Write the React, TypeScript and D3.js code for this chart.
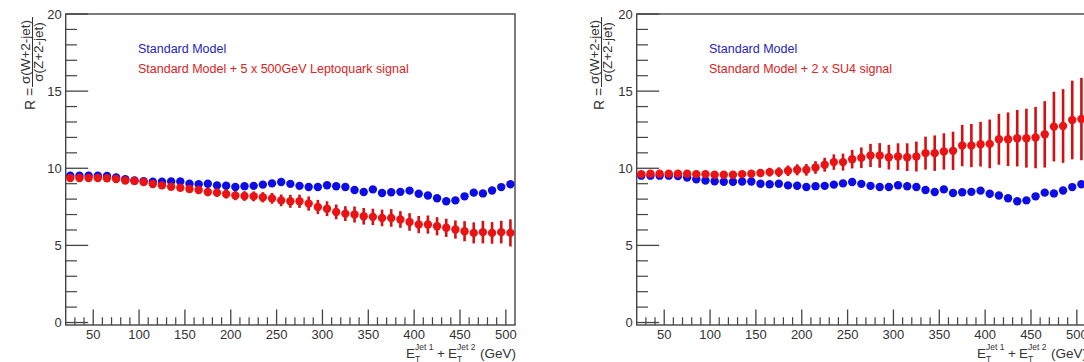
import React from "react";
import * as d3 from "d3";

// ---- data ----
const binCenters = [25, 35, 45, 55, 65, 75, 85, 95, 105, 115, 125, 135, 145, 155, 165, 175, 185, 195, 205, 215, 225, 235, 245, 255, 265, 275, 285, 295, 305, 315, 325, 335, 345, 355, 365, 375, 385, 395, 405, 415, 425, 435, 445, 455, 465, 475, 485, 495, 505];

const smRatio = [9.52, 9.52, 9.52, 9.52, 9.5, 9.4, 9.29, 9.21, 9.16, 9.13, 9.13, 9.14, 9.14, 9.0, 8.96, 9.0, 8.89, 8.87, 8.79, 8.84, 8.86, 8.94, 9.02, 9.11, 8.99, 8.86, 8.79, 8.79, 8.9, 8.83, 8.79, 8.59, 8.46, 8.63, 8.4, 8.45, 8.47, 8.55, 8.35, 8.23, 8.06, 7.86, 7.92, 8.18, 8.42, 8.37, 8.56, 8.78, 8.96];

const lqRatio = [9.37, 9.37, 9.37, 9.37, 9.35, 9.3, 9.21, 9.18, 9.11, 8.98, 8.89, 8.8, 8.74, 8.66, 8.59, 8.46, 8.42, 8.33, 8.23, 8.2, 8.18, 8.12, 8.05, 7.92, 7.86, 7.86, 7.71, 7.49, 7.38, 7.17, 7.06, 7.0, 6.89, 6.85, 6.78, 6.78, 6.68, 6.52, 6.35, 6.35, 6.24, 6.14, 6.03, 5.92, 5.81, 5.86, 5.81, 5.86, 5.81];
const lqErr = [0.1, 0.1, 0.1, 0.12, 0.12, 0.13, 0.14, 0.15, 0.16, 0.17, 0.18, 0.2, 0.21, 0.23, 0.25, 0.27, 0.28, 0.29, 0.3, 0.31, 0.32, 0.33, 0.35, 0.38, 0.42, 0.43, 0.46, 0.46, 0.48, 0.48, 0.48, 0.52, 0.54, 0.53, 0.54, 0.57, 0.54, 0.57, 0.56, 0.59, 0.59, 0.59, 0.59, 0.65, 0.68, 0.73, 0.7, 0.73, 0.88];

const su4Ratio = [9.62, 9.65, 9.65, 9.65, 9.65, 9.65, 9.62, 9.62, 9.58, 9.58, 9.58, 9.62, 9.65, 9.69, 9.75, 9.75, 9.84, 9.9, 9.9, 10.05, 10.23, 10.4, 10.4, 10.59, 10.68, 10.83, 10.83, 10.72, 10.76, 10.72, 10.76, 10.98, 10.98, 11.09, 11.13, 11.47, 11.47, 11.56, 11.58, 11.88, 11.88, 11.95, 11.95, 11.99, 12.2, 12.7, 12.74, 13.13, 13.19];
const su4Err = [0.1, 0.1, 0.1, 0.11, 0.12, 0.13, 0.14, 0.15, 0.17, 0.18, 0.2, 0.22, 0.24, 0.26, 0.28, 0.31, 0.34, 0.36, 0.38, 0.41, 0.45, 0.5, 0.55, 0.6, 0.67, 0.75, 0.8, 0.8, 0.86, 0.9, 0.97, 1.07, 1.15, 1.18, 1.24, 1.34, 1.4, 1.45, 1.58, 1.65, 1.74, 1.83, 1.91, 1.99, 2.15, 2.26, 2.39, 2.55, 2.67];

const xTickLabels = [50, 100, 150, 200, 250, 300, 350, 400, 450, 500];
const yTickLabels = [0, 5, 10, 15, 20];
const xMinorTicks = [30, 40, 60, 70, 80, 90, 110, 120, 130, 140, 160, 170, 180, 190, 210, 220, 230, 240, 260, 270, 280, 290, 310, 320, 330, 340, 360, 370, 380, 390, 410, 420, 430, 440, 460, 470, 480, 490];
const yMinorTicks = [1, 2, 3, 4, 6, 7, 8, 9, 11, 12, 13, 14, 16, 17, 18, 19];

const smLabel = "Standard Model";
const lqLabel = "Standard Model + 5 x 500GeV Leptoquark signal";
const su4Label = "Standard Model + 2 x SU4 signal";

// ---- styles ----
const FONT = "'Liberation Sans', Arial, Helvetica, sans-serif";
const BLUE = "#0c0ce6";
const RED = "#ea1212";
const RED_BAR = "#d41010";
const AXIS = "#444";
const TEXT = "#333";

type PanelProps = {
  left: number;
  signal: number[];
  signalErr: number[];
  signalLabel: string;
  titleShift: number;
};

function Panel({ left, signal, signalErr, signalLabel, titleShift }: PanelProps) {
  const width = 449.3;
  const top = 14;
  const bottom = 325;
  const x = d3.scaleLinear().domain([20, 510]).range([left, left + width]);
  const y = d3.scaleLinear().domain([-0.16, 20]).range([bottom, top]);
  const right = left + width;

  const barX = left - 33.2 + titleShift;
  const cy = 52;

  // x-axis title start
  const tx = right - 113;

  return (
    <g>
      {/* frame */}
      <rect x={left} y={top} width={width} height={bottom - top} fill="none" stroke={AXIS} strokeWidth={1.4} />

      {/* y ticks */}
      {yTickLabels.map((t) => (
        <g key={"yt" + t}>
          <line x1={left} x2={left + 22.5} y1={y(t)} y2={y(t)} stroke={AXIS} strokeWidth={1.3} />
          <text x={left - 4} y={y(t)} dy="0.36em" textAnchor="end" fontSize={13} fill={TEXT} fontFamily={FONT}>
            {t}
          </text>
        </g>
      ))}
      {yMinorTicks.map((t) => (
        <line key={"ym" + t} x1={left} x2={left + 11.3} y1={y(t)} y2={y(t)} stroke={AXIS} strokeWidth={1.2} />
      ))}

      {/* x ticks */}
      {xTickLabels.map((t) => (
        <g key={"xt" + t}>
          <line x1={x(t)} x2={x(t)} y1={bottom} y2={bottom - 15.5} stroke={AXIS} strokeWidth={1.3} />
          <text x={x(t)} y={339} textAnchor="middle" fontSize={13} fill={TEXT} fontFamily={FONT}>
            {t}
          </text>
        </g>
      ))}
      {xMinorTicks.map((t) => (
        <line key={"xm" + t} x1={x(t)} x2={x(t)} y1={bottom} y2={bottom - 7.8} stroke={AXIS} strokeWidth={1.2} />
      ))}

      {/* SM points */}
      {binCenters.map((c, i) => (
        <circle key={"sm" + c} cx={x(c)} cy={y(smRatio[i])} r={4.2} fill={BLUE} />
      ))}

      {/* signal error bars + points */}
      {binCenters.map((c, i) => (
        <line
          key={"se" + c}
          x1={x(c)}
          x2={x(c)}
          y1={y(signal[i] - signalErr[i])}
          y2={y(signal[i] + signalErr[i])}
          stroke={RED_BAR}
          strokeWidth={2.6}
        />
      ))}
      {binCenters.map((c, i) => (
        <circle key={"sp" + c} cx={x(c)} cy={y(signal[i])} r={4.2} fill={RED} />
      ))}

      {/* legend */}
      <text x={left + 72.3} y={52.5} fontSize={12.5} fill="#2424c0" fontFamily={FONT}>
        {smLabel}
      </text>
      <text x={left + 72.3} y={72.5} fontSize={12.5} fill="#dc2222" fontFamily={FONT}>
        {signalLabel}
      </text>

      {/* y title */}
      <g fontFamily={FONT} fill={TEXT}>
        <text transform={`translate(${barX - 2.5},${cy}) rotate(-90)`} textAnchor="middle" fontSize={13.5}>
          σ(W+2-jet)
        </text>
        <line x1={barX} x2={barX} y1={cy - 35} y2={cy + 35} stroke={TEXT} strokeWidth={1} />
        <text transform={`translate(${barX + 10},${cy}) rotate(-90)`} textAnchor="middle" fontSize={13.5}>
          σ(Z+2-jet)
        </text>
        <text transform={`translate(${barX + 2},${110}) rotate(-90)`} textAnchor="start" fontSize={14}>
          R =
        </text>
      </g>

      {/* x title */}
      <g fontFamily={FONT} fill={TEXT}>
        <text x={tx + 4} y={358} fontSize={13.5}>E</text>
        <text x={tx + 13} y={361.5} fontSize={8.5}>T</text>
        <text x={tx + 13} y={350} fontSize={8.5}>Jet 1</text>
        <text x={tx + 35} y={358} fontSize={13.5}>+</text>
        <text x={tx + 46} y={358} fontSize={13.5}>E</text>
        <text x={tx + 55} y={361.5} fontSize={8.5}>T</text>
        <text x={tx + 55} y={350} fontSize={8.5}>Jet 2</text>
        <text x={tx + 78} y={358} fontSize={13.5}>(GeV)</text>
      </g>
    </g>
  );
}

export default function App() {
  return (
    <svg
      width={1084}
      height={362}
      style={{ position: "absolute", left: 0, top: 0, background: "#fff" }}
    >
      <rect x={0} y={0} width={1084} height={362} fill="#fff" />
      <Panel left={65.7} signal={lqRatio} signalErr={lqErr} signalLabel={lqLabel} titleShift={0} />
      <Panel left={636.7} signal={su4Ratio} signalErr={su4Err} signalLabel={su4Label} titleShift={-2} />
    </svg>
  );
}
